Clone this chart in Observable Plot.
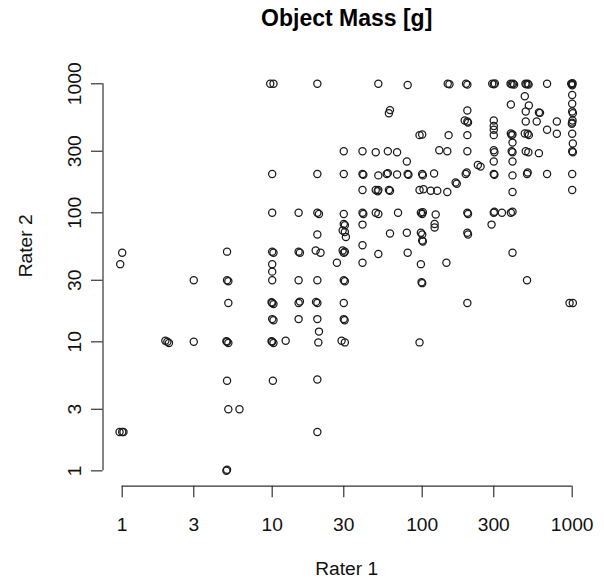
<!DOCTYPE html>
<html>
<head>
<meta charset="utf-8">
<script src="https://cdn.jsdelivr.net/npm/d3@7"></script>
<script src="https://cdn.jsdelivr.net/npm/@observablehq/plot@0.6"></script>
<style>
  body { margin: 0; background: #fff; font-family: "Liberation Sans", Arial, Helvetica, sans-serif; }
  #title { position: relative; height: 40px; }
  #title span { position: absolute; top: 7px; left: 346.7px; transform: translateX(-50%); white-space: nowrap;
    font-size: 23px; line-height: 23px; font-weight: bold; color: #000; }
  #chart svg { display: block; }
</style>
</head>
<body>
<div id="title"><span>Object Mass [g]</span></div>
<div id="chart"></div>
<script>
// Rater 1 (x) and Rater 2 (y) estimates
const rater1 = [
  9.7, 10.2, 20, 10, 20, 10, 15, 20, 20.5, 20, 1, 0.97, 5, 10, 10.2, 10, 10, 15, 15.3, 19.5, 21,
  3, 5, 5.1, 10, 15, 20, 5.1, 10, 10.2, 9.9, 15, 15.3, 20, 19.6, 10, 10.2, 15, 20, 20.5,
  1.94, 2.0, 2.05, 3, 5, 5.1, 4.95, 10, 10.2, 9.9, 12.3, 20.3, 5, 10.1, 20, 5.1, 6.05,
  0.96, 1.02, 1.0, 20, 5, 4.95,
  30, 30.5, 99, 100, 500, 30, 200, 960, 1010, 30, 30.4, 29, 30.5, 96,
  51, 80, 148, 152, 196, 200, 293, 300, 305, 388, 395, 404, 410, 488, 495, 506, 512, 680, 985, 1000, 1005, 1000,
  483, 514, 390, 1000, 1000, 1000, 1010, 1000, 1005, 995, 1000, 1010, 1000, 1010,
  600, 610, 490, 580, 790, 490, 680, 790, 390, 400, 395, 483, 514, 505, 400,
  300, 300, 300, 300, 200, 192, 202, 200, 200, 150, 96, 100, 61, 60,
  30, 40, 49, 59, 68, 79, 130, 147, 200, 300, 303, 300, 395, 400, 400, 490, 510, 600,
  235, 245, 167, 170, 195, 198,
  30, 40, 40.5, 51, 58, 59, 68, 80, 81, 100, 101, 120, 300, 303, 400, 500, 505, 680, 1000,
  40, 49, 51, 50.5, 60, 61, 96, 102, 114, 126, 147, 400, 1000,
  30, 40, 40.5, 49, 51, 69, 98, 100, 101, 123, 200, 202, 300, 303, 340, 390, 400,
  30, 30.5, 29.5, 30.5, 31, 40, 61, 79, 98, 100, 100, 101, 121, 121, 200, 202, 290,
  29.5, 30, 30.5, 40, 51, 80, 400, 27, 40, 98, 145
];
const rater2 = [
  1000, 1000, 1000, 200, 200, 100, 100, 100, 98, 68, 49, 40, 50, 50, 49, 40, 35, 50, 49, 51, 49,
  30, 30, 29.5, 30, 30, 30, 20, 20, 19.6, 20.3, 20, 20.5, 20, 20.4, 15, 14.7, 15, 15, 12,
  10.2, 10, 9.8, 10, 10, 9.8, 10.1, 10, 9.8, 10.1, 10.2, 9.9, 5, 5, 5.1, 3, 3,
  2, 2, 2, 2, 1.02, 1,
  30, 29.5, 29, 28.5, 30, 20, 20, 20, 20, 15, 14.7, 10.2, 9.9, 9.9,
  1000, 980, 1000, 990, 1000, 985, 1000, 990, 1005, 1000, 990, 1000, 985, 1000, 990, 1000, 985, 1000, 1000, 990, 1010, 975,
  800, 680, 690, 820, 700, 610, 590, 500, 520, 490, 410, 345, 300, 295,
  600, 595, 610, 510, 510, 510, 440, 410, 412, 405, 400, 412, 400, 410, 350,
  520, 470, 440, 400, 620, 520, 500, 510, 400, 400, 400, 405, 625, 590,
  300, 300, 295, 300, 295, 250, 305, 300, 300, 305, 295, 250, 300, 295, 250, 300, 295, 290,
  235, 228, 172, 168, 200, 205,
  200, 200, 197, 195, 200, 203, 198, 200, 197, 200, 195, 202, 200, 197, 195, 200, 205, 200, 200,
  150, 150, 150, 147, 150, 148, 150, 152, 148, 148, 145, 145, 150,
  98, 100, 98, 100, 98, 100, 100, 98, 101, 97, 100, 98, 100, 102, 100, 100, 102,
  82, 80, 73, 71, 65, 81, 69, 70, 70, 68, 61, 60, 82, 77, 70, 68, 81,
  51, 49, 50, 56, 48, 49, 49, 41, 41, 40, 41
];
const xTicks = [1, 3, 10, 30, 100, 300, 1000];
const xTickLabels = ["1", "3", "10", "30", "100", "300", "1000"];
const yTicks = [1, 3, 10, 30, 100, 300, 1000];
const yTickLabels = ["1", "3", "10", "30", "100", "300", "1000"];
const titleText = "Object Mass [g]";
const xLabel = "Rater 1";
const yLabel = "Rater 2";

document.querySelector("#title span").textContent = titleText;

const points = rater1.map((x, i) => ({r1: x, r2: rater2[i]}));
const xDomain = [Math.pow(10, -0.128), Math.pow(10, 3.12)];
const yDomain = [Math.pow(10, -0.119), Math.pow(10, 3.12)];
const font = "'Liberation Sans', Arial, Helvetica, sans-serif";
const fs = 19.2;

const chart = Plot.plot({
  width: 604,
  height: 539,
  marginLeft: 102.5,
  marginRight: 14.3,
  marginTop: 27.8,
  marginBottom: 93.3,
  style: {fontFamily: font, fontSize: fs + "px", color: "#111", background: "#fff"},
  x: {type: "log", domain: xDomain},
  y: {type: "log", domain: yDomain},
  marks: [
    Plot.ruleX([xDomain[0]], {y1: yTicks[0], y2: yTicks[yTicks.length - 1], stroke: "#333", strokeWidth: 1.2}),
    Plot.ruleY([yDomain[0]], {x1: xTicks[0], x2: xTicks[xTicks.length - 1], stroke: "#333", strokeWidth: 1.2}),
    Plot.axisX({ticks: xTicks, tickFormat: d => xTickLabels[xTicks.indexOf(d)], tickSize: 11.5, tickPadding: 19.5,
      label: null, fontSize: fs, stroke: "#333", strokeWidth: 1.2}),
    Plot.axisY({ticks: yTicks, tickFormat: d => yTickLabels[yTicks.indexOf(d)], tickSize: 11.5, tickPadding: 11,
      tickRotate: -90, label: null, fontSize: fs, stroke: "#333", strokeWidth: 1.2}),
    Plot.dot(points, {x: "r1", y: "r2", r: 3.6, stroke: "#1a1a1a", strokeWidth: 1.25, fill: "none"}),
    Plot.text([xLabel], {frameAnchor: "bottom", dy: 88.5, lineAnchor: "bottom", fontSize: fs}),
    Plot.text([yLabel], {frameAnchor: "left", dx: -70.8, rotate: -90, lineAnchor: "bottom", fontSize: fs})
  ]
});
document.getElementById("chart").appendChild(chart);
</script>
</body>
</html>
